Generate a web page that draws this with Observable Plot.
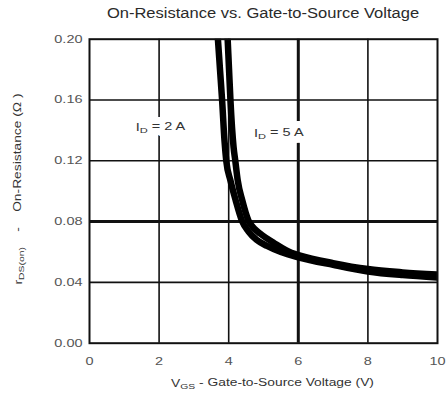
<!DOCTYPE html>
<html><head><meta charset="utf-8">
<script src="https://cdn.jsdelivr.net/npm/d3@7"></script>
<script src="https://cdn.jsdelivr.net/npm/@observablehq/plot@0.6"></script>
<style>
body{margin:0;background:#fff;font-family:"Liberation Sans",Arial,sans-serif;}
#title{position:relative;width:446px;height:30px;overflow:visible;}
#title span{position:absolute;left:263px;top:6.3px;line-height:15px;white-space:nowrap;font-size:14px;color:#2a2a2a;transform:translateX(-50%) scaleX(1.18);transform-origin:center;}
#chart svg{display:block;}
</style></head><body>
<div id="title"><span>On-Resistance vs. Gate-to-Source Voltage</span></div>
<div id="chart"></div>
<script>
// I_D = 2 A curve
const vgs2A = [3.62, 3.69, 3.75, 3.81, 3.88, 3.93, 4.05, 4.2, 4.38, 4.57, 4.8, 5.1, 5.5, 6.0, 7.0, 8.0, 9.0, 10.0];
const rds2A = [0.22, 0.20, 0.18, 0.16, 0.133, 0.12, 0.107, 0.094, 0.0806, 0.0735, 0.068, 0.064, 0.060, 0.0565, 0.0515, 0.0472, 0.0448, 0.0432];
// I_D = 5 A curve
const vgs5A = [3.93, 3.97, 4.01, 4.05, 4.14, 4.19, 4.26, 4.39, 4.57, 4.73, 4.9, 5.3, 5.8, 6.03, 7.0, 8.0, 9.0, 10.0];
const rds5A = [0.22, 0.20, 0.18, 0.16, 0.129, 0.12, 0.107, 0.094, 0.0806, 0.0755, 0.0722, 0.066, 0.0595, 0.0578, 0.0527, 0.0488, 0.0466, 0.0451];

const xTicks = [0, 2, 4, 6, 8, 10];
const yTicks = [0, 0.04, 0.08, 0.12, 0.16, 0.20];
const xGrid = [2, 4, 8];
const xGridBold = [6];
const yGrid = [0.04, 0.12, 0.16];
const yGridBold = [0.08];

const labelText = ["I_D = 2 A", "I_D = 5 A"];
const labelX = [2.04, 5.44];
const labelY = [0.142, 0.138];

const curve2A = vgs2A.map((v, i) => ({v, r: rds2A[i]}));
const curve5A = vgs5A.map((v, i) => ({v, r: rds5A[i]}));
const labels = labelText.map((t, i) => ({t, x: labelX[i], y: labelY[i]}));

const STRETCH = 1.38;

const plot = Plot.plot({
  width: 446, height: 370,
  marginLeft: 89, marginRight: 9, marginTop: 8.7, marginBottom: 57.3,
  style: {fontFamily: '"Liberation Sans", Arial, sans-serif', fontSize: "10.5px", color: "#555", background: "#fff"},
  x: {domain: [0, 10], label: null},
  y: {domain: [0, 0.2], label: null},
  marks: [
    Plot.ruleX(xGrid, {stroke: "#111", strokeWidth: 1.6}),
    Plot.ruleX(xGridBold, {stroke: "#111", strokeWidth: 3}),
    Plot.ruleY(yGrid, {stroke: "#111", strokeWidth: 1.6}),
    Plot.ruleY(yGridBold, {stroke: "#111", strokeWidth: 3}),
    // white halo layer that breaks the grid lines behind the labels
    Plot.text(labels, {x: "x", y: "y", text: "t", fill: "white", stroke: "white", strokeWidth: 14, strokeLinejoin: "round", fontSize: 10.5}),
    Plot.text(labels, {x: "x", y: "y", text: "t", fill: "#333", fontSize: 10.5}),
    Plot.line(curve2A, {x: "v", y: "r", stroke: "#000", strokeWidth: 6.5, curve: "monotone-x", clip: true}),
    Plot.line(curve5A, {x: "v", y: "r", stroke: "#000", strokeWidth: 6.5, curve: "monotone-x", clip: true}),
    Plot.frame({stroke: "#111", strokeWidth: 2}),
    Plot.axisX({ticks: xTicks, tickSize: 0, tickPadding: 14, label: null}),
    Plot.axisY({ticks: yTicks, tickSize: 0, tickPadding: 7, tickFormat: d3.format(".2f"), label: null})
  ]
});
document.getElementById("chart").appendChild(plot);

const svg = d3.select(plot);
// subscripts in the in-plot labels (I_D)
svg.selectAll("text").filter(function() { return this.textContent.includes("_"); }).each(function() {
  const s = this.textContent;
  const parts = s.split("_");
  const t = d3.select(this);
  t.text(null);
  t.append("tspan").text(parts[0]);
  t.append("tspan").attr("dy", "0.3em").attr("font-size", "8px").text(parts[1].charAt(0));
  t.append("tspan").attr("dy", "-0.3em").text(parts[1].slice(1));
});

// axis titles
const xl = svg.append("text").attr("x", 272.5).attr("y", 356.7).attr("text-anchor", "middle")
  .attr("fill", "#333").attr("font-size", "10px").style("white-space", "pre");
xl.append("tspan").text("V");
xl.append("tspan").attr("dy", "0.3em").attr("font-size", "7.5px").text("GS");
xl.append("tspan").attr("dy", "-0.3em").text(" - Gate-to-Source Voltage (V)");

const yl = svg.append("text").attr("transform", "translate(21.5,159) rotate(-90)").attr("text-anchor", "middle")
  .attr("fill", "#333").attr("font-size", "10px").style("white-space", "pre");
yl.append("tspan").text("r");
yl.append("tspan").attr("dy", "0.3em").attr("font-size", "7.5px").text("DS(on)");
yl.append("tspan").attr("dy", "-0.3em").text("    -    On-Resistance (\u03A9 )");

// horizontal stretch of the scanned-look type
svg.selectAll("text").each(function() {
  const L = this.getComputedTextLength();
  this.setAttribute("textLength", L * STRETCH);
  this.setAttribute("lengthAdjust", "spacingAndGlyphs");
});
</script>
</body></html>
